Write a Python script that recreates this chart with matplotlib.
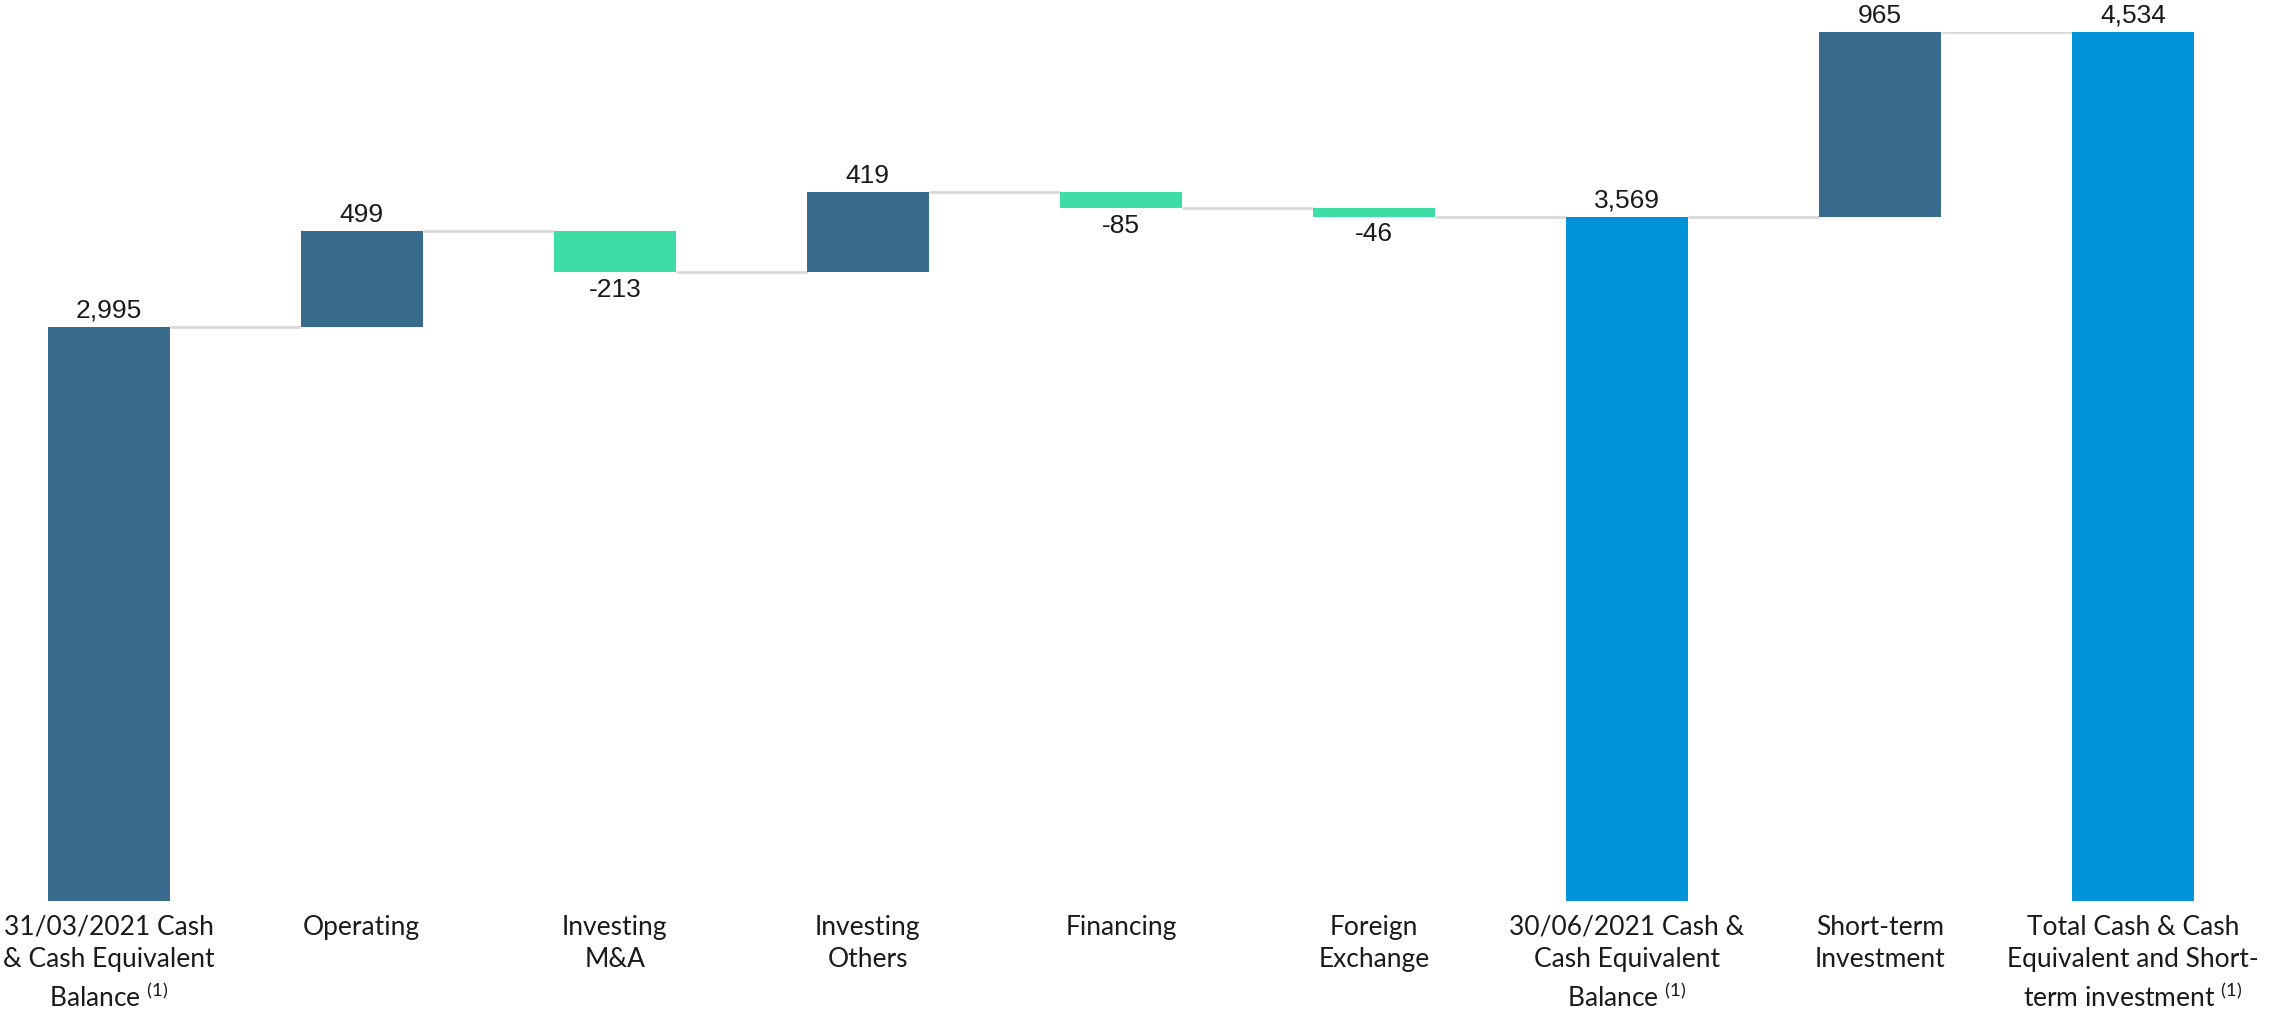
import matplotlib
matplotlib.use("Agg")
import matplotlib.pyplot as plt
import numpy as np

categories = [
    "31/03/2021 Cash\n& Cash Equivalent\nBalance $^{\\mathregular{(1)}}$",
    "Operating",
    "Investing\nM&A",
    "Investing\nOthers",
    "Financing",
    "Foreign\nExchange",
    "30/06/2021 Cash &\nCash Equivalent\nBalance $^{\\mathregular{(1)}}$",
    "Short-term\nInvestment",
    "Total Cash & Cash\nEquivalent and Short-\nterm investment $^{\\mathregular{(1)}}$",
]
values = [2995, 499, -213, 419, -85, -46, 3569, 965, 4534]
kinds = ["start", "delta", "delta", "delta", "delta", "delta", "total", "delta", "total"]
value_labels = ["2,995", "499", "-213", "419", "-85", "-46", "3,569", "965", "4,534"]

DARK = "#386B8C"
GREEN = "#3DDDA5"
BRIGHT = "#0093D8"
CONN = "#D9D9D9"

plt.rcParams["mathtext.fontset"] = "custom"

fig = plt.figure(figsize=(22.72, 10.11), dpi=100)
ax = fig.add_axes([0, 0.1088, 1, 0.8596])

x = np.arange(len(values))
width = 0.48
bottoms, heights, colors, ends = [], [], [], []
running = 0
for v, k in zip(values, kinds):
    if k in ("start", "total"):
        bottoms.append(0)
        heights.append(v)
        running = v
        colors.append(DARK if k == "start" else BRIGHT)
    else:
        if v >= 0:
            bottoms.append(running)
            heights.append(v)
            colors.append(DARK)
        else:
            bottoms.append(running + v)
            heights.append(-v)
            colors.append(GREEN)
        running += v
    ends.append(running)

ax.bar(x, heights, width=width, bottom=bottoms, color=colors, zorder=3)

# connectors
for i in range(len(values) - 1):
    ax.plot([x[i] + width / 2, x[i + 1] - width / 2], [ends[i], ends[i]],
            color=CONN, lw=2, zorder=2, solid_capstyle="butt")

vfont = ["Liberation Sans Narrow", "Liberation Sans"]
# value labels
for i, (v, k) in enumerate(zip(values, kinds)):
    top = bottoms[i] + heights[i]
    if k == "delta" and v < 0:
        ax.annotate(value_labels[i], (x[i], bottoms[i]), xytext=(0, -4),
                    textcoords="offset points", ha="center", va="top",
                    fontsize=19, family=vfont, color="#1a1a1a")
    else:
        ax.annotate(value_labels[i], (x[i], top), xytext=(0, 3),
                    textcoords="offset points", ha="center", va="bottom",
                    fontsize=19, family=vfont, color="#1a1a1a",
                    annotation_clip=False)

ax.set_xlim(-0.43, 8.55)
ax.set_ylim(0, 4534)
ax.set_xticks(x)
ax.set_xticklabels(categories, fontsize=19, family="Lato", color="#1a1a1a",
                   linespacing=1.38, va="top")
ax.tick_params(axis="x", length=0, pad=10)
ax.set_yticks([])
for s in ax.spines.values():
    s.set_visible(False)

fig.savefig("out.png", dpi=100)
